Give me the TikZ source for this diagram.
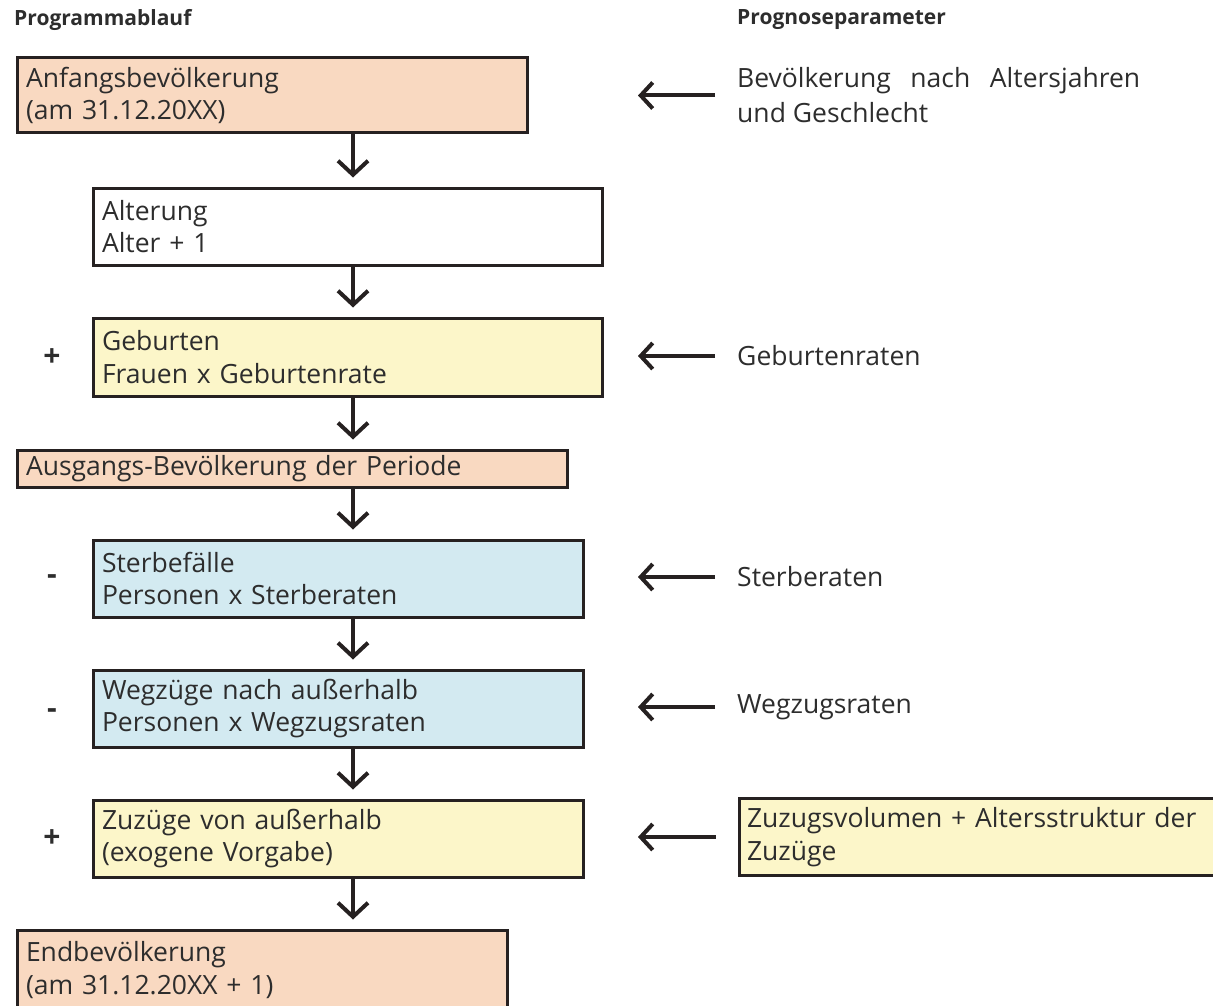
\documentclass[tikz,border=0pt]{standalone}
\usepackage{fontspec}
\setmainfont{Open Sans}
\usetikzlibrary{arrows.meta}

\definecolor{salmon}{RGB}{249,217,193}
\definecolor{paleyellow}{RGB}{252,246,201}
\definecolor{paleblue}{RGB}{211,234,241}
\definecolor{boxline}{RGB}{38,33,33}
\definecolor{txt}{RGB}{45,45,45}

\tikzset{
  pbox/.style={draw=boxline, line width=3pt, anchor=north west, inner xsep=9pt,
    inner ysep=0pt, align=left, text=txt, font=\fontsize{26.5}{32.5}\selectfont},
  plabel/.style={anchor=west, inner sep=0pt, align=left, text=txt,
    font=\fontsize{26.5}{35}\selectfont},
  phead/.style={anchor=west, inner sep=0pt, text=txt, font=\bfseries\fontsize{21}{25}\selectfont},
  psign/.style={inner sep=0pt, text=txt, font=\bfseries\fontsize{30}{30}\selectfont},
  flow/.style={line width=4pt, boxline, -{Straight Barb[length=14pt,width=30pt]}, shorten >=9pt},
  feed/.style={line width=4pt, boxline, -{Straight Barb[length=12pt,width=26pt]}, shorten <=22pt},
}

\begin{document}
\begin{tikzpicture}[x=1pt,y=-1pt]
\useasboundingbox (0,0) rectangle (1213,1006);

\node[phead] (hprog) at (14,20) {Programmablauf}; % left column
\node[phead] (hpar) at (737,20) {Prognoseparameter}; % right column

% program boxes
\node[pbox, fill=salmon, text width=492pt, minimum height=75pt] (anf) at (15.5,56.5) {Anfangsbevölkerung\\(am 31.12.20XX)};
\node[pbox, fill=white, text width=491pt, minimum height=77pt] (alt) at (91.5,186.5) {Alterung\\Alter + 1};
\node[pbox, fill=paleyellow, text width=491pt, minimum height=78pt] (geb) at (91.5,316.5) {Geburten\\Frauen x Geburtenrate};
\node[pbox, fill=salmon, text width=532pt, minimum height=37pt] (aus) at (15.5,448.5) {Ausgangs-Bevölkerung der Periode};
\node[pbox, fill=paleblue, text width=472pt, minimum height=77pt] (ster) at (91.5,538.5) {Sterbefälle\\Personen x Sterberaten};
\node[pbox, fill=paleblue, text width=472pt, minimum height=77pt] (weg) at (91.5,668.5) {Wegzüge nach außerhalb\\Personen x Wegzugsraten};
\node[pbox, fill=paleyellow, text width=472pt, minimum height=77pt] (zuz) at (91.5,798.5) {Zuzüge von außerhalb\\(exogene Vorgabe)};
\node[pbox, fill=salmon, text width=472pt, minimum height=80pt] (endb) at (15.5,928.5) {Endbevölkerung\\(am 31.12.20XX + 1)}; % cut off at the bottom

% signs
\node[psign] (sgeb) at (52,358) {+};
\node[psign] (sster) at (52,580) {-};
\node[psign] (sweg) at (52,714) {-};
\node[psign] (szuz) at (52,839) {+};

% parameters
\node[plabel] (pbev) at (737,95.5) {\makebox[403pt][s]{Bevölkerung nach Altersjahren}\\und Geschlecht};
\node[plabel] (pgeb) at (737,356) {Geburtenraten};
\node[plabel] (pster) at (737,577) {Sterberaten};
\node[plabel] (pweg) at (737,707) {Wegzugsraten};
\node[pbox, anchor=west, fill=paleyellow, text width=480pt, minimum height=77pt, inner xsep=8pt] (pzuz) at (737.5,837) {Zuzugsvolumen + Altersstruktur der\\Zuzüge};

\coordinate (spine) at (353,0);
\coordinate (tipx) at (638,0);

% flow down
\draw[flow] (anf.south -| spine) -- (alt.north -| spine);
\draw[flow] (alt.south -| spine) -- (geb.north -| spine);
\draw[flow] (geb.south -| spine) -- (aus.north -| spine);
\draw[flow] (aus.south -| spine) -- (ster.north -| spine);
\draw[flow] (ster.south -| spine) -- (weg.north -| spine);
\draw[flow] (weg.south -| spine) -- (zuz.north -| spine);
\draw[flow] (zuz.south -| spine) -- (endb.north -| spine);

% parameters in
\draw[feed] (pbev.west) -- (pbev.west -| tipx);
\draw[feed] (pgeb.west) -- (pgeb.west -| tipx);
\draw[feed] (pster.west) -- (pster.west -| tipx);
\draw[feed] (pweg.west) -- (pweg.west -| tipx);
\draw[feed] (pzuz.west) -- (pzuz.west -| tipx);
\end{tikzpicture}
\end{document}
